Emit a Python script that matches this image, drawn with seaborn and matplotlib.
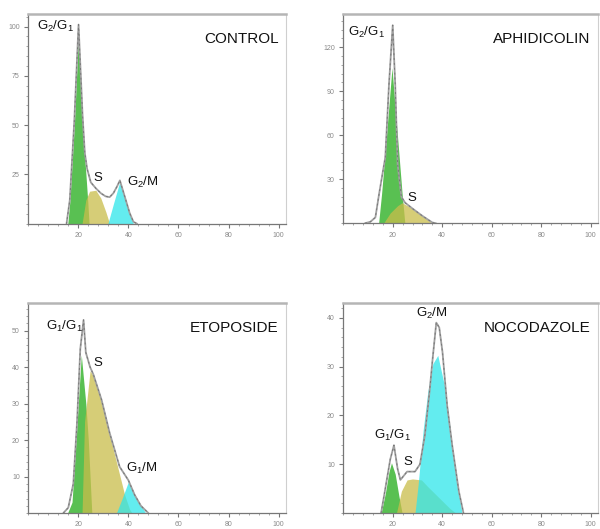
import numpy as np
import pandas as pd
import matplotlib
matplotlib.use("Agg")
import matplotlib.pyplot as plt
import seaborn as sns
from matplotlib.ticker import MultipleLocator

# ---- data (channel, cell count) ----
# CONTROL
ctrl_g1_x = [15.8, 16.6, 18.4, 20.1, 21.7, 23.8, 24.3]
ctrl_g1_y = [0, 11, 50, 97, 50, 11, 0]
ctrl_s_x = [21.5, 23, 24.5, 27, 29, 31, 32.5]
ctrl_s_y = [0, 12, 16.5, 17, 13, 6, 0]
ctrl_g2m_x = [31.8, 34, 36.6, 38.5, 40.5, 42]
ctrl_g2m_y = [0, 10, 21.5, 14, 5, 0]
ctrl_fit_x = [15.3, 16.6, 18.4, 20.1, 21.7, 22.6, 23.5, 25, 27, 29, 30.9, 32.5, 34, 35.5, 36.6, 38.5, 40.5, 42, 43.5]
ctrl_fit_y = [0, 12, 52, 101, 55, 36, 28, 21, 18, 15.5, 13.9, 13.5, 15.5, 19, 22, 14, 5.5, 1, 0]

# APHIDICOLIN
aph_g1_x = [14.3, 15.5, 17.5, 19.7, 21.9, 23.8, 24.9]
aph_g1_y = [0, 20, 60, 106, 60, 20, 0]
aph_s_x = [16.3, 19, 22, 23.8, 28, 32, 36]
aph_s_y = [0, 7, 12, 14, 10, 5, 0]
aph_fit_x = [8.8, 11, 13, 14.5, 15.6, 17, 18.5, 20, 21, 22, 23.5, 25, 28, 32, 36, 37.5]
aph_fit_y = [0, 1, 4, 20, 31, 45, 95, 135, 95, 40, 18, 14, 10, 5, 0.5, 0]

# ETOPOSIDE
eto_g1_x = [15.7, 17.5, 19.1, 21.2, 23, 24, 25.4]
eto_g1_y = [0, 3, 20, 43.3, 30, 20, 0]
eto_s_x = [21.5, 22.5, 24.7, 26, 29.3, 32.5, 34.5, 36.5, 38.5, 40.5, 41.5]
eto_s_y = [0, 25, 39, 37.5, 30.5, 21.5, 16, 10.5, 5, 1, 0]
eto_g2m_x = [35.2, 37.5, 40, 43, 46.9]
eto_g2m_y = [0, 4, 8.6, 4.5, 0]
eto_fit_x = [14, 16, 18, 19.5, 20.8, 22.1, 23, 24.7, 26, 29.3, 32.5, 36.5, 40, 42.5, 45, 48]
eto_fit_y = [0, 1.5, 8, 25, 45, 52.9, 44, 40, 38, 31, 22, 12.7, 9, 5, 2, 0]

# NOCODAZOLE
noc_g1_x = [15.3, 17, 18.5, 19.5, 21, 22.5, 23.8]
noc_g1_y = [0, 4, 8.5, 10.3, 8, 3.5, 0]
noc_s_x = [21.5, 23.5, 25.8, 28, 31.6, 34, 37, 40, 43, 45.5]
noc_s_y = [0, 4.5, 6.8, 7, 6.8, 5.5, 4, 2.5, 1, 0]
noc_g2m_x = [29, 30.3, 32.3, 34.2, 36.2, 38.2, 41.4, 44, 46.7, 48]
noc_g2m_y = [0, 6, 17, 25, 30.6, 32.3, 25, 13.6, 4, 0]
noc_fit_x = [15.3, 17, 19, 20.5, 22, 23.1, 25.8, 29, 31, 33, 34.9, 36.2, 37.6, 38.8, 40.1, 42, 44, 46.7, 48.6]
noc_fit_y = [0, 5, 11, 13.9, 9, 6.8, 8.5, 8.5, 10, 16, 25, 32, 39, 38, 33, 22, 14, 4.5, 0]

panels = [
    dict(name="CONTROL", ymax=106.5, ystep=25, yminor=5,
         comps=[(ctrl_g1_x, ctrl_g1_y, "g1"), (ctrl_s_x, ctrl_s_y, "s"), (ctrl_g2m_x, ctrl_g2m_y, "g2m")],
         fit=(ctrl_fit_x, ctrl_fit_y),
         labels=[("G$_2$/G$_1$", 3.5, 100, "left"), ("S", 28, 23, "center"), ("G$_2$/M", 39.5, 21, "left")],
         pos=[0.047, 0.577, 0.43, 0.397]),
    dict(name="APHIDICOLIN", ymax=142.5, ystep=30, yminor=6,
         comps=[(aph_g1_x, aph_g1_y, "g1"), (aph_s_x, aph_s_y, "s")],
         fit=(aph_fit_x, aph_fit_y),
         labels=[("G$_2$/G$_1$", 2, 130, "left"), ("S", 27.8, 17, "center")],
         pos=[0.572, 0.578, 0.425, 0.395]),
    dict(name="ETOPOSIDE", ymax=57.5, ystep=10, yminor=2,
         comps=[(eto_g1_x, eto_g1_y, "g1"), (eto_s_x, eto_s_y, "s"), (eto_g2m_x, eto_g2m_y, "g2m")],
         fit=(eto_fit_x, eto_fit_y),
         labels=[("G$_1$/G$_1$", 7, 51, "left"), ("S", 28, 41, "center"), ("G$_1$/M", 39, 12.3, "left")],
         pos=[0.047, 0.030, 0.43, 0.397]),
    dict(name="NOCODAZOLE", ymax=43, ystep=10, yminor=2,
         comps=[(noc_g1_x, noc_g1_y, "g1"), (noc_s_x, noc_s_y, "s"), (noc_g2m_x, noc_g2m_y, "g2m")],
         fit=(noc_fit_x, noc_fit_y),
         labels=[("G$_2$/M", 35.7, 40.8, "center"), ("G$_1$/G$_1$", 20, 16, "center"), ("S", 26, 10.5, "center")],
         pos=[0.572, 0.030, 0.425, 0.397]),
]

colors = {"g1": "#3cb534", "s": "#c9bd4a", "g2m": "#2fe6ea"}
alphas = {"g1": 0.85, "s": 0.75, "g2m": 0.75}

sns.set_theme(style="ticks")
plt.rcParams["font.family"] = ["Liberation Sans", "DejaVu Sans"]
plt.rcParams["mathtext.default"] = "regular"

fig = plt.figure(figsize=(6.0, 5.29), dpi=100)

for p in panels:
    ax = fig.add_axes(p["pos"])
    for cx, cy, kind in p["comps"]:
        ax.fill_between(cx, cy, 0, color=colors[kind], alpha=alphas[kind], linewidth=0, zorder=2)
    fit_df = pd.DataFrame({"channel": p["fit"][0], "count": p["fit"][1]})
    sns.lineplot(data=fit_df, x="channel", y="count", ax=ax, color="#a0a0a0",
                 linewidth=1.3, sort=False, zorder=3)
    sns.lineplot(data=fit_df, x="channel", y="count", ax=ax, color="#777777",
                 linewidth=0.7, sort=False, zorder=4, linestyle=(0, (2, 3)))

    ax.set_xlim(0, 103)
    ax.set_ylim(0, p["ymax"])
    ax.xaxis.set_minor_locator(MultipleLocator(4))
    ax.yaxis.set_minor_locator(MultipleLocator(p["yminor"]))
    ax.set_xticks([20, 40, 60, 80, 100])
    ax.set_yticks([v for v in np.arange(p["ystep"], p["ymax"], p["ystep"])])
    ax.tick_params(which="major", direction="out", length=3, width=0.8, color="#777777",
                   labelsize=5, labelcolor="#8a8a8a", pad=3)
    ax.tick_params(which="minor", direction="out", length=1.5, width=0.6, color="#999999")
    ax.set_xlabel("")
    ax.set_ylabel("")

    for side in ["left", "bottom"]:
        ax.spines[side].set_color("#777777")
        ax.spines[side].set_linewidth(0.9)
    ax.spines["right"].set_color("#cfcfcf")
    ax.spines["right"].set_linewidth(0.8)
    ax.spines["top"].set_color("#b5b5b5")
    ax.spines["top"].set_linewidth(1.8)

    ax.text(0.97, 0.88, p["name"], transform=ax.transAxes, ha="right", va="center",
            fontsize=11, color="#111111")
    for txt, lx, ly, ha in p["labels"]:
        ax.text(lx, ly, txt, ha=ha, va="center", fontsize=9.5, color="#111111", zorder=5)

fig.savefig("out.png", dpi=100)
